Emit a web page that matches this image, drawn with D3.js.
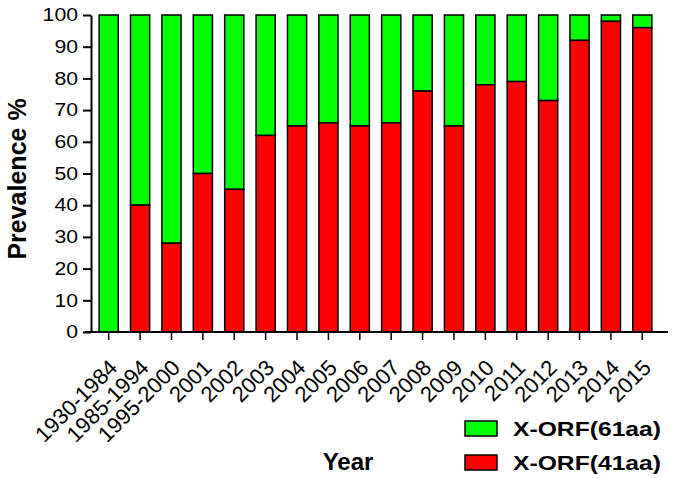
<!DOCTYPE html>
<html lang="en">
<head>
  <meta charset="UTF-8">
  <title>X-ORF prevalence by year</title>
  <style>
    body { margin: 0; background: #fff; }
    svg text { font-family: "Liberation Sans", Arial, sans-serif; fill: #000; }
  </style>
</head>
<body>
  <script src="https://d3js.org/d3.v7.min.js"></script>
  <svg id="chart" width="675" height="478"></svg>
  <script>
    // data
    const years = ["1930-1984", "1985-1994", "1995-2000", "2001", "2002", "2003", "2004", "2005", "2006",
      "2007", "2008", "2009", "2010", "2011", "2012", "2013", "2014", "2015"];
    const orf41 = [0, 40, 28, 50, 45, 62, 65, 66, 65, 66, 76, 65, 78, 79, 73, 92, 98, 96];
    const orf61 = orf41.map(v => 100 - v);
    const yTicks = [0, 10, 20, 30, 40, 50, 60, 70, 80, 90, 100];
    const seriesNames = ["X-ORF(61aa)", "X-ORF(41aa)"];
    const seriesColors = ["#00ff00", "#ff0000"];

    const svg = d3.select("svg#chart");

    const x = d3.scaleBand()
      .domain(years)
      .range([93, 658])
      .paddingInner(0.39)
      .paddingOuter(0.195);

    const y = d3.scaleLinear()
      .domain([0, 100])
      .range([332, 15]);

    // bars: green part on top, red part at bottom
    years.forEach(function (yr, i) {
      svg.append("rect")
        .attr("x", x(yr))
        .attr("y", y(100))
        .attr("width", x.bandwidth())
        .attr("height", y(100 - orf61[i]) - y(100))
        .attr("fill", seriesColors[0])
        .attr("stroke", "#000")
        .attr("stroke-width", 1.5);
      if (orf41[i] > 0) {
        svg.append("rect")
          .attr("x", x(yr))
          .attr("y", y(orf41[i]))
          .attr("width", x.bandwidth())
          .attr("height", y(0) - y(orf41[i]))
          .attr("fill", seriesColors[1])
          .attr("stroke", "#000")
          .attr("stroke-width", 1.5);
      }
    });

    // y axis
    const yAxis = svg.append("g")
      .attr("transform", "translate(91,0)")
      .call(d3.axisLeft(y).tickValues(yTicks).tickSize(8).tickSizeOuter(0));
    yAxis.select(".domain").attr("stroke-width", 2);
    yAxis.selectAll(".tick line").attr("stroke-width", 2);
    yAxis.selectAll("text")
      .attr("x", 0)
      .attr("transform", "translate(-13,0) scale(1.18,1)")
      .style("font-size", "18px")
      .style("font-family", "'Liberation Sans', Arial, sans-serif");

    // x axis
    const xAxis = svg.append("g")
      .attr("transform", "translate(0,332)")
      .call(d3.axisBottom(x).tickSize(8).tickSizeOuter(0));
    xAxis.select(".domain").attr("d", "M85,0H668").attr("stroke-width", 2);
    xAxis.selectAll(".tick line").attr("stroke-width", 1.5);
    xAxis.selectAll("text")
      .attr("x", 0)
      .attr("y", 0)
      .attr("dy", null)
      .attr("transform", "translate(10,37) rotate(-45)")
      .style("text-anchor", "end")
      .style("font-size", "22px")
      .style("font-family", "'Liberation Sans', Arial, sans-serif");

    // axis titles
    svg.append("text")
      .attr("transform", "translate(26,179) rotate(-90)")
      .attr("text-anchor", "middle")
      .style("font-size", "25px")
      .style("font-weight", "bold")
      .text("Prevalence %");

    svg.append("text")
      .attr("x", 348)
      .attr("y", 470)
      .attr("text-anchor", "middle")
      .style("font-size", "24px")
      .style("font-weight", "bold")
      .text("Year");

    // legend
    seriesNames.forEach(function (name, i) {
      const ly = 421 + i * 34;
      svg.append("rect")
        .attr("x", 465)
        .attr("y", ly)
        .attr("width", 32)
        .attr("height", 15)
        .attr("fill", seriesColors[i])
        .attr("stroke", "#000")
        .attr("stroke-width", 1.5);
      svg.append("text")
        .attr("x", 513)
        .attr("y", ly + 15)
        .attr("textLength", 148)
        .attr("lengthAdjust", "spacingAndGlyphs")
        .style("font-size", "21px")
        .style("font-weight", "bold")
        .text(name);
    });
  </script>
</body>
</html>
